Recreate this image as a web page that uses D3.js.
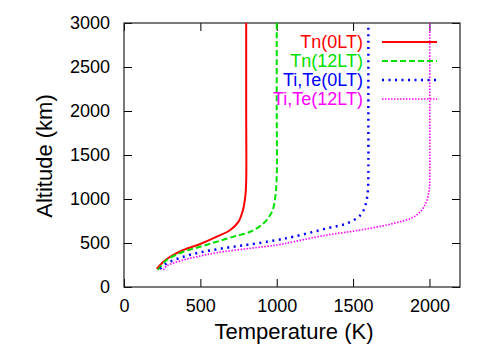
<!DOCTYPE html>
<html>
<head>
<meta charset="utf-8">
<script src="https://cdn.jsdelivr.net/npm/d3@7"></script>
<style>
  body { margin: 0; background: #fff; }
  text { font-family: "Liberation Sans", Arial, sans-serif; }
</style>
</head>
<body>
<div id="chart"></div>
<script>
// data: temperature (K) vs altitude (km)
var tn0Temp  = [214, 258, 302, 389, 499, 608, 696, 750, 779, 794, 800, 800, 800];
var tn0Alt   = [205, 288, 344, 420, 489, 572, 648, 743, 875, 1026, 1200, 2000, 3000];
var tn12Temp = [222, 280, 389, 499, 608, 717, 827, 914, 969, 991, 1000, 1000, 1000];
var tn12Alt  = [193, 307, 401, 458, 515, 572, 628, 724, 856, 1026, 1250, 2000, 3000];
var ti0Temp  = [236, 280, 389, 499, 608, 717, 827, 1002, 1111, 1330, 1461, 1549, 1581, 1597, 1600, 1600, 1600];
var ti0Alt   = [205, 269, 344, 394, 428, 458, 485, 534, 572, 667, 724, 818, 932, 1102, 1300, 2000, 3000];
var ti12Temp = [258, 280, 389, 499, 608, 827, 1002, 1111, 1330, 1549, 1768, 1899, 1965, 1998, 2002, 2002, 2002];
var ti12Alt  = [193, 239, 307, 352, 390, 440, 477, 515, 591, 648, 724, 799, 913, 1102, 1300, 2000, 3000];

var seriesNames = ["Tn(0LT)", "Tn(12LT)", "Ti,Te(0LT)", "Ti,Te(12LT)"];
var seriesColors = ["#ff0000", "#00e000", "#0000ff", "#ff00ff"];
var seriesDash = [null, "6,3", "2,4.5", "1.5,1.5"];
var seriesWidth = [2, 2, 2.5, 1.6];

var xTicks = [0, 500, 1000, 1500, 2000];
var yTicks = [0, 500, 1000, 1500, 2000, 2500, 3000];

var series = [
  {temp: tn0Temp, alt: tn0Alt},
  {temp: tn12Temp, alt: tn12Alt},
  {temp: ti0Temp, alt: ti0Alt},
  {temp: ti12Temp, alt: ti12Alt}
];

var svgWidth = 492, svgHeight = 345;
var margin = {left: 124, right: 32, top: 23, bottom: 58};
var width = svgWidth - margin.left - margin.right,
    height = svgHeight - margin.top - margin.bottom;

var svg = d3.select("#chart").append("svg")
  .attr("width", svgWidth)
  .attr("height", svgHeight);

var chart = svg.append("g")
  .attr("transform", `translate(${margin.left}, ${margin.top})`);

var x = d3.scaleLinear().domain([0, 2200]).range([0, width]);
var y = d3.scaleLinear().domain([0, 3000]).range([height, 0]);
var fmt = d3.format("d");

// inward ticks on all four sides (gnuplot style)
var tickLen = 8;
chart.append("g")
  .attr("transform", `translate(0, ${height})`)
  .call(d3.axisBottom(x).tickValues(xTicks).tickFormat(fmt).tickSize(-tickLen).tickPadding(12))
  .call(g => g.select(".domain").remove());
chart.append("g")
  .call(d3.axisTop(x).tickValues(xTicks).tickSize(-tickLen).tickFormat(""))
  .call(g => g.select(".domain").remove());
chart.append("g")
  .call(d3.axisLeft(y).tickValues(yTicks).tickFormat(fmt).tickSize(-tickLen).tickPadding(14))
  .call(g => g.select(".domain").remove());
chart.append("g")
  .attr("transform", `translate(${width}, 0)`)
  .call(d3.axisRight(y).tickValues(yTicks).tickSize(-tickLen).tickFormat(""))
  .call(g => g.select(".domain").remove());

chart.selectAll(".tick text")
  .attr("font-size", 18)
  .attr("font-family", "Liberation Sans, Arial, sans-serif")
  .attr("fill", "#000");
chart.selectAll(".tick line").attr("stroke", "#000");

chart.append("rect")
  .attr("width", width)
  .attr("height", height)
  .attr("fill", "none")
  .attr("stroke", "#222")
  .attr("stroke-width", 1.2);

// curves
var line = d3.line()
  .x(d => x(d[0]))
  .y(d => y(d[1]))
  .curve(d3.curveCatmullRom.alpha(0.5));

series.forEach(function(s, i) {
  var pts = s.temp.map((t, j) => [t, s.alt[j]]);
  chart.append("path")
    .datum(pts)
    .attr("d", line)
    .attr("fill", "none")
    .attr("stroke", seriesColors[i])
    .attr("stroke-width", seriesWidth[i])
    .attr("stroke-dasharray", seriesDash[i]);
});

// legend
var legend = svg.append("g");
seriesNames.forEach(function(name, i) {
  var ly = 42 + i * 19;
  legend.append("text")
    .attr("x", 363)
    .attr("y", ly + 6)
    .attr("text-anchor", "end")
    .attr("font-size", 18)
    .attr("fill", seriesColors[i])
    .text(name);
  legend.append("line")
    .attr("x1", 382).attr("x2", 437)
    .attr("y1", ly).attr("y2", ly)
    .attr("stroke", seriesColors[i])
    .attr("stroke-width", seriesWidth[i])
    .attr("stroke-dasharray", seriesDash[i]);
});

// axis titles
svg.append("text")
  .attr("x", 294)
  .attr("y", 339)
  .attr("text-anchor", "middle")
  .attr("font-size", 22)
  .text("Temperature (K)");

svg.append("text")
  .attr("transform", "translate(52, 156) rotate(-90)")
  .attr("text-anchor", "middle")
  .attr("font-size", 22)
  .text("Altitude (km)");
</script>
</body>
</html>
